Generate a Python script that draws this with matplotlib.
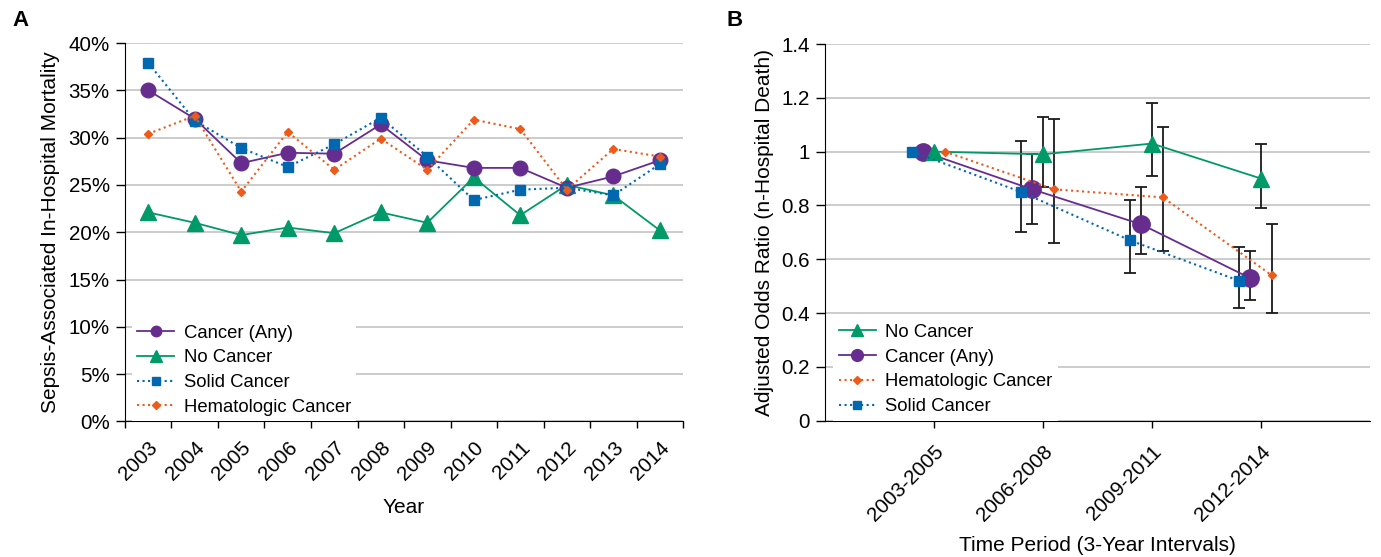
import matplotlib
matplotlib.use("Agg")
import matplotlib.pyplot as plt
from matplotlib.ticker import FixedLocator, FuncFormatter

plt.rcParams['font.family'] = ['Liberation Sans', 'DejaVu Sans']

# panel A data (percent)
years = [2003, 2004, 2005, 2006, 2007, 2008, 2009, 2010, 2011, 2012, 2013, 2014]
cancer_any = [35.0, 32.0, 27.3, 28.4, 28.3, 31.4, 27.6, 26.8, 26.8, 24.7, 25.9, 27.6]
no_cancer = [22.1, 21.0, 19.7, 20.5, 19.9, 22.1, 21.0, 25.8, 21.8, 25.0, 23.9, 20.2]
solid_cancer = [37.9, 31.8, 28.9, 26.9, 29.3, 32.1, 28.0, 23.4, 24.5, 24.7, 23.9, 27.2]
heme_cancer = [30.4, 32.3, 24.3, 30.6, 26.6, 29.9, 26.6, 31.9, 30.9, 24.5, 28.8, 28.0]

# panel B data (adjusted odds ratios with CI)
periods = ["2003-2005", "2006-2008", "2009-2011", "2012-2014"]
or_no_cancer = [1.0, 0.99, 1.03, 0.90]
lo_no_cancer = [1.0, 0.87, 0.91, 0.79]
hi_no_cancer = [1.0, 1.13, 1.18, 1.03]
or_any = [1.0, 0.86, 0.73, 0.53]
lo_any = [1.0, 0.73, 0.62, 0.45]
hi_any = [1.0, 0.99, 0.87, 0.63]
or_heme = [1.0, 0.86, 0.83, 0.54]
lo_heme = [1.0, 0.66, 0.63, 0.40]
hi_heme = [1.0, 1.12, 1.09, 0.73]
or_solid = [1.0, 0.85, 0.67, 0.52]
lo_solid = [1.0, 0.70, 0.55, 0.42]
hi_solid = [1.0, 1.04, 0.82, 0.645]

purple = '#662D8F'
green = '#009A68'
blue = '#0067B1'
orange = '#EE5A1A'
grid_c = '#C4C4C4'
tick_fs = 14.8
label_fs = 15
legend_fs = 13.3

fig = plt.figure(figsize=(13.81, 5.57), dpi=100)
axA = fig.add_axes([0.0905, 0.2433, 0.4041, 0.6795])
axB = fig.add_axes([0.5974, 0.2447, 0.3946, 0.6763])


# shrink the markers shown in a legend
def legend_markers(leg, sizes):
    for h, s in zip(leg.legend_handles, sizes):
        h.set_markersize(s)


def style_legend(ax, left, sizes):
    leg = ax.legend(loc='lower left', bbox_to_anchor=(left, 0.0), frameon=True,
                    fontsize=legend_fs, handlelength=2.0, handletextpad=0.5,
                    borderaxespad=0.0, borderpad=0.3, labelspacing=0.42, fancybox=False)
    leg.get_frame().set_edgecolor('none')
    leg.get_frame().set_facecolor('white')
    leg.get_frame().set_alpha(1)
    legend_markers(leg, sizes)
    return leg


# ---------------- panel A ----------------
xa = list(range(len(years)))
axA.plot(xa, cancer_any, '-', color=purple, lw=1.3, marker='o', ms=10.5, label='Cancer (Any)', zorder=4)
axA.plot(xa, no_cancer, '-', color=green, lw=1.3, marker='^', ms=11, label='No Cancer', zorder=3)
axA.plot(xa, solid_cancer, ':', color=blue, lw=1.5, marker='s', ms=6.5, label='Solid Cancer', zorder=5)
axA.plot(xa, heme_cancer, ':', color=orange, lw=1.5, marker='D', ms=4.5, label='Hematologic Cancer', zorder=6)

axA.set_xlim(-0.5, len(years) - 0.5)
axA.set_ylim(0, 40)
axA.set_yticks(range(0, 41, 5))
axA.yaxis.set_major_formatter(FuncFormatter(lambda v, p: '%d%%' % v))
axA.set_xticks(xa)
axA.set_xticklabels([str(y) for y in years], rotation=45, ha='right', rotation_mode='anchor')
axA.xaxis.set_minor_locator(FixedLocator([i - 0.5 for i in range(len(years) + 1)]))
axA.tick_params(axis='x', which='major', length=0, pad=12, labelsize=tick_fs)
axA.tick_params(axis='x', which='minor', length=5, width=1)
axA.tick_params(axis='y', length=6.5, width=1, pad=4.5, labelsize=tick_fs)
axA.grid(axis='y', color=grid_c, lw=1.2)
axA.set_axisbelow(True)
for s in ['top', 'right']:
    axA.spines[s].set_visible(False)
axA.set_ylabel('Sepsis-Associated In-Hospital Mortality', fontsize=label_fs, labelpad=6)
axA.set_xlabel('Year', fontsize=label_fs, labelpad=10)
style_legend(axA, 0.0125, [7.5, 8, 5.5, 4])

# ---------------- panel B ----------------
xb = list(range(1, len(periods) + 1))
series = [
    (or_solid, lo_solid, hi_solid, -0.2),
    (or_any, lo_any, hi_any, -0.1),
    (or_no_cancer, lo_no_cancer, hi_no_cancer, 0.0),
    (or_heme, lo_heme, hi_heme, 0.1),
]
for vals, lo, hi, off in series:
    xs = [x + off for x in xb[1:]]
    yerr = [[v - l for v, l in zip(vals[1:], lo[1:])], [h - v for v, h in zip(vals[1:], hi[1:])]]
    axB.errorbar(xs, vals[1:], yerr=yerr, fmt='none', ecolor='#1a1a1a', elinewidth=1.3,
                 capsize=4, capthick=1.3, zorder=2)

axB.plot([x + 0.0 for x in xb], or_no_cancer, '-', color=green, lw=1.3, marker='^', ms=11,
         label='No Cancer', zorder=4)
axB.plot([x - 0.1 for x in xb], or_any, '-', color=purple, lw=1.3, marker='o', ms=12.5,
         label='Cancer (Any)', zorder=3)
axB.plot([x + 0.1 for x in xb], or_heme, ':', color=orange, lw=1.5, marker='D', ms=4.5,
         label='Hematologic Cancer', zorder=5)
axB.plot([x - 0.2 for x in xb], or_solid, ':', color=blue, lw=1.5, marker='s', ms=6.5,
         label='Solid Cancer', zorder=5)

axB.set_xlim(0, len(periods) + 1)
axB.set_ylim(0, 1.4)
axB.set_yticks([0, 0.2, 0.4, 0.6, 0.8, 1.0, 1.2, 1.4])
axB.yaxis.set_major_formatter(FuncFormatter(lambda v, p: '%g' % round(v, 1)))
axB.set_xticks(xb)
axB.set_xticklabels(periods, rotation=45, ha='right', rotation_mode='anchor')
axB.tick_params(axis='x', length=5, width=1, pad=10, labelsize=tick_fs)
axB.tick_params(axis='y', length=6.5, width=1, pad=4.5, labelsize=tick_fs)
axB.grid(axis='y', color=grid_c, lw=1.2)
axB.set_axisbelow(True)
for s in ['top', 'right']:
    axB.spines[s].set_visible(False)
axB.set_ylabel('Adjusted Odds Ratio (n-Hospital Death)', fontsize=label_fs, labelpad=5)
axB.set_xlabel('Time Period (3-Year Intervals)', fontsize=label_fs, labelpad=8)
style_legend(axB, 0.0147, [8.5, 8.5, 4, 5.5])

fig.text(0.0145, 0.963, 'A', fontsize=16, fontweight='bold', ha='center', va='center')
fig.text(0.532, 0.963, 'B', fontsize=16, fontweight='bold', ha='center', va='center')

fig.savefig('out.png', dpi=100)
